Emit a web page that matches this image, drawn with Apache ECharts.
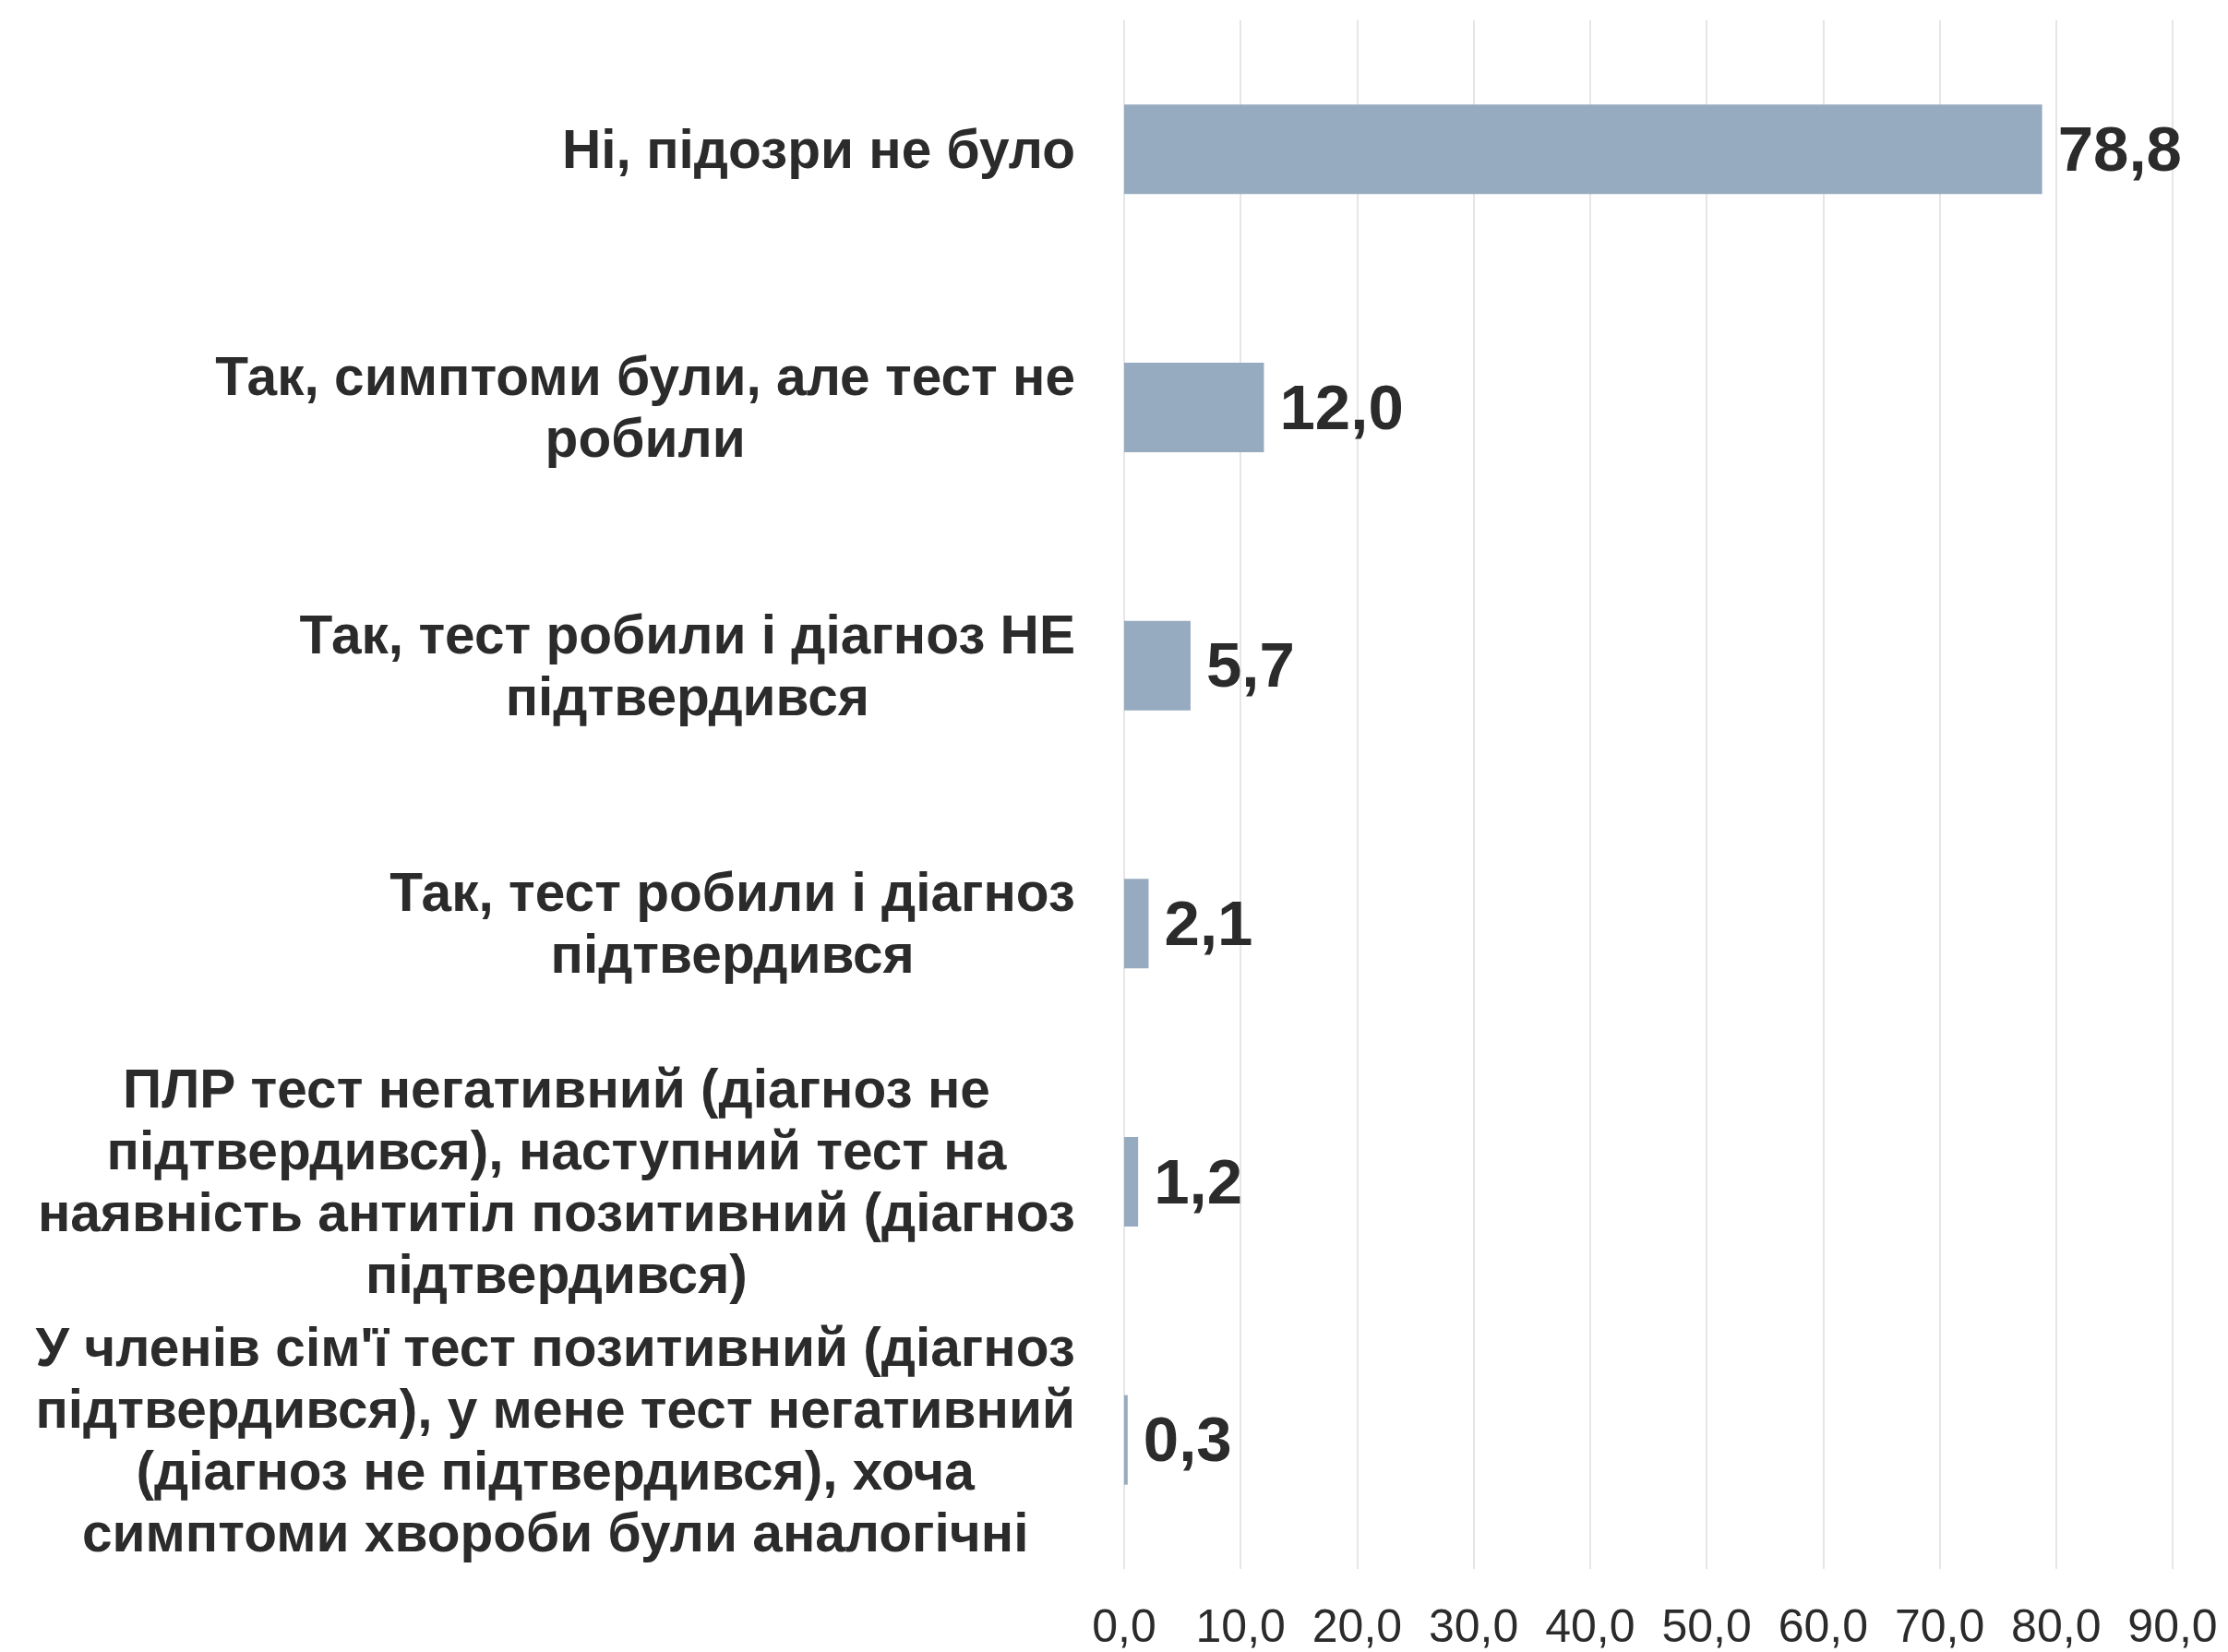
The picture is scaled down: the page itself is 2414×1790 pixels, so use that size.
<!DOCTYPE html>
<html>
<head>
<meta charset="utf-8">
<script src="https://cdn.jsdelivr.net/npm/echarts@6/dist/echarts.min.js"></script>
<style>
  html, body { margin: 0; padding: 0; background: #ffffff; }
  #chart { width: 2414px; height: 1790px; }
</style>
</head>
<body>
<div id="chart"></div>
<script>
// categories, top to bottom (line breaks as in the source)
const categories = [
  'Ні, підозри не було',
  'Так, симптоми були, але тест не\nробили',
  'Так, тест робили і діагноз НЕ\nпідтвердився',
  'Так, тест робили і діагноз\nпідтвердився',
  'ПЛР тест негативний (діагноз не\nпідтвердився), наступний тест на\nнаявність антитіл позитивний (діагноз\nпідтвердився)',
  'У членів сім\'ї тест позитивний (діагноз\nпідтвердився), у мене тест негативний\n(діагноз не підтвердився), хоча\nсимптоми хвороби були аналогічні'
];
const values = [78.8, 12.0, 5.7, 2.1, 1.2, 0.3];
const axisMax = 90;
const axisStep = 10;

const fontFamily = '"Liberation Sans", Arial, sans-serif';
const textColor = '#2b2b2b';

function fmt(v) {
  return Number(v).toFixed(1).replace('.', ',');
}

const chart = echarts.init(document.getElementById('chart'));

chart.setOption({
  animation: false,
  backgroundColor: '#ffffff',
  grid: {
    left: 1218,
    right: 60,
    top: 22,
    bottom: 90
  },
  xAxis: {
    type: 'value',
    min: 0,
    max: axisMax,
    interval: axisStep,
    axisLine: { show: false },
    axisTick: { show: false },
    splitLine: {
      show: true,
      lineStyle: { color: '#e6e6e6', width: 2 }
    },
    axisLabel: {
      margin: 40,
      fontFamily: fontFamily,
      fontSize: 50,
      color: textColor,
      formatter: fmt
    }
  },
  yAxis: {
    type: 'category',
    inverse: true,
    data: categories,
    axisLine: { show: false },
    axisTick: { show: false },
    axisLabel: {
      margin: 53,
      padding: [8, 0, 0, 0],
      formatter: (value) => value.split('\n').map((line) => '{c|' + line + '}').join('\n'),
      rich: {
        c: {
          align: 'center',
          fontFamily: fontFamily,
          fontWeight: 'bold',
          fontSize: 58.6,
          lineHeight: 67,
          color: textColor
        }
      }
    }
  },
  series: [
    {
      type: 'bar',
      data: values,
      barWidth: '34.7%',
      itemStyle: { color: '#97abc0' },
      label: {
        show: true,
        position: 'right',
        distance: 17,
        offset: [0, 4],
        fontFamily: fontFamily,
        fontWeight: 'bold',
        fontSize: 69,
        color: textColor,
        formatter: (p) => fmt(p.value)
      }
    }
  ]
});
</script>
</body>
</html>
